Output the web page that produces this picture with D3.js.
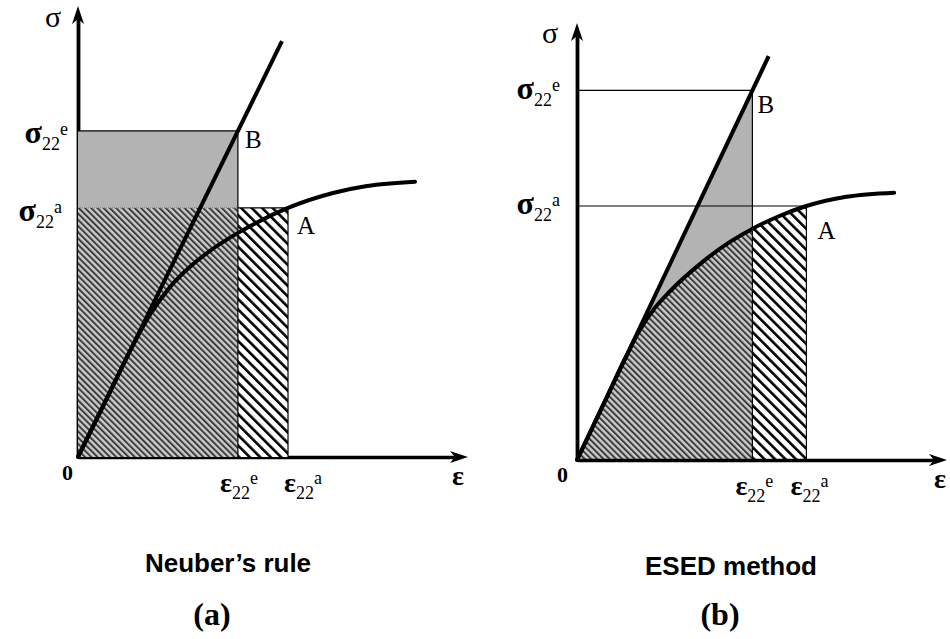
<!DOCTYPE html>
<html>
<head>
<meta charset="utf-8">
<script src="https://cdn.jsdelivr.net/npm/d3@7"></script>
<style>
  html, body { margin: 0; padding: 0; background: #fff; }
  svg { display: block; }
</style>
</head>
<body>
<script>
// Stress–strain values in diagram units: 0–100 spans each axis up to its arrow tip.
const panelTitles   = ["Neuber’s rule", "ESED method"];
const panelLetters  = ["(a)", "(b)"];
const strainElastic = [41.0, 47.4];   // ε22e
const strainActual  = [53.85, 62.0];  // ε22a
const stressElastic = [72.3, 84.6];   // σ22e  (point B)
const stressActual  = [55.23, 58.12]; // σ22a  (point A)
const elasticLineEnd = [[52.3, 92.2], [51.8, 92.4]];
const curveNeuber = [[0, 0], [8.21, 14.41], [13.33, 23.50], [18.46, 31.57], [23.59, 37.67], [28.72, 42.17],
                     [33.85, 45.72], [41.03, 49.69], [53.85, 55.23], [65.38, 58.54], [74.10, 60.09], [86.41, 61.04]];
const curveEsed   = [[0, 0], [7.55, 13.48], [12.94, 23.11], [16.98, 29.73], [21.02, 34.78], [25.07, 38.56],
                     [33.96, 45.35], [41.24, 49.84], [47.44, 52.93], [54.72, 55.84], [62.0, 58.12],
                     [72.78, 60.23], [85.71, 61.17]];
const curves = [curveNeuber, curveEsed];

// Page layout of each panel (pixels)
const layouts = [
  { x0: 78, x1: 468, y0: 457, y1: 6, axesOnTop: false,
    sigmaDx: -25, sigmaDy: 21, epsDx: -10, zeroDx: -5, zeroDy: 23,
    sigELabel: [-10, 12], sigALabel: [-16, 13], epsELabel: 1, epsALabel: 15,
    bLabel: [7, 17], aLabel: [9, 26], titleX: 228, titleY: 572, letterX: 212, letterY: 625 },
  { x0: 577, x1: 947, y0: 460, y1: 23, axesOnTop: true,
    sigmaDx: -27, sigmaDy: 20, epsDx: -7, zeroDx: -9, zeroDy: 22,
    sigELabel: [-17, 9], sigALabel: [-17, 8], epsELabel: 2, epsALabel: 3,
    bLabel: [5, 23], aLabel: [11, 33], titleX: 731, titleY: 575, letterX: 720, letterY: 625 }
];

const W = 950, H = 639;
const SERIF = "'Liberation Serif', 'Times New Roman', serif";
const SANS = "'Liberation Sans', Arial, sans-serif";
const GREY = "#b3b3b3";

const svg = d3.select("body").append("svg").attr("width", W).attr("height", H);
const defs = svg.append("defs");

// Diagonal hatch fills ("\" direction)
function hatch(id, period, stripe, bg, fg) {
  const p = defs.append("pattern").attr("id", id)
    .attr("patternUnits", "userSpaceOnUse")
    .attr("width", period).attr("height", period)
    .attr("patternTransform", "rotate(-45)");
  p.append("rect").attr("width", period).attr("height", period).attr("fill", bg);
  p.append("rect").attr("width", stripe).attr("height", period).attr("fill", fg);
}
hatch("hatch-dense", 4.4, 2.0, "#cccccc", "#3c3c3c");
hatch("hatch-wide", 7.4, 2.6, "#ffffff", "#000000");

// Arrowhead pointing along +x with its tip at the origin
const arrowPath = "M0,0 L-18,-6 L-13,0 L-18,6 Z";

function symbolLabel(g, x, y, anchor, main, sup, mainSize) {
  const t = g.append("text").attr("x", x).attr("y", y).attr("text-anchor", anchor)
    .attr("font-family", SERIF).attr("fill", "#000");
  t.append("tspan").attr("font-size", mainSize).attr("font-weight", "bold").text(main);
  t.append("tspan").attr("font-size", 18).attr("dy", 7).text("22");
  t.append("tspan").attr("font-size", 18).attr("dy", -15).text(sup);
  return t;
}

layouts.forEach((L, i) => {
  const g = svg.append("g");
  const xs = d3.scaleLinear().domain([0, 100]).range([L.x0, L.x1]);
  const ys = d3.scaleLinear().domain([0, 100]).range([L.y0, L.y1]);
  const epsE = strainElastic[i], epsA = strainActual[i];
  const sigE = stressElastic[i], sigA = stressActual[i];
  const curve = curves[i];

  function drawAxes() {
    const ax = g.append("g");
    // axis lines stop short of the tips so the arrowheads stay sharp
    const xAxisScale = xs.copy().range([L.x0, L.x1 - 10]);
    const yAxisScale = ys.copy().range([L.y0, L.y1 + 10]);
    ax.append("g").attr("transform", `translate(0,${ys(0)})`)
      .call(d3.axisBottom(xAxisScale).tickValues([]).tickSizeOuter(0))
      .call(a => a.select(".domain").attr("stroke", "#000").attr("stroke-width", 3.5));
    ax.append("g").attr("transform", `translate(${xs(0)},0)`)
      .call(d3.axisLeft(yAxisScale).tickValues([]).tickSizeOuter(0))
      .call(a => a.select(".domain").attr("stroke", "#000").attr("stroke-width", 3.8));
    ax.append("path").attr("d", arrowPath).attr("fill", "#000")
      .attr("transform", `translate(${xs(100)},${ys(0)})`);
    ax.append("path").attr("d", arrowPath).attr("fill", "#000")
      .attr("transform", `translate(${xs(0)},${ys(100)}) rotate(-90)`);
  }

  if (!L.axesOnTop) drawAxes();

  const thin = (x1, y1, x2, y2, extra) => {
    const l = g.append("line")
      .attr("x1", xs(x1)).attr("y1", ys(y1)).attr("x2", xs(x2)).attr("y2", ys(y2))
      .attr("stroke", "#000").attr("stroke-width", 1.2);
    if (extra) extra(l);
    return l;
  };

  if (i === 0) {
    // Neuber: rectangles of equal area
    g.append("rect").attr("x", xs(0)).attr("y", ys(sigE))
      .attr("width", xs(epsE) - xs(0)).attr("height", ys(sigA) - ys(sigE)).attr("fill", GREY);
    g.append("rect").attr("x", xs(0)).attr("y", ys(sigA))
      .attr("width", xs(epsE) - xs(0)).attr("height", ys(0) - ys(sigA)).attr("fill", "url(#hatch-dense)");
    g.append("rect").attr("x", xs(epsE)).attr("y", ys(sigA))
      .attr("width", xs(epsA) - xs(epsE)).attr("height", ys(0) - ys(sigA)).attr("fill", "url(#hatch-wide)");
    thin(0, sigE, epsE, sigE);
    thin(0, sigA, epsE, sigA, l => l.attr("stroke", "#777").attr("stroke-dasharray", "1,1").attr("stroke-width", 1));
    thin(epsE, sigA, epsA, sigA);
    thin(epsE, sigE, epsE, 0);
    thin(epsA, sigA, epsA, 0);
  } else {
    // ESED: equal strain energy densities
    g.append("path")
      .attr("d", d3.line()([[xs(0), ys(0)], [xs(epsE), ys(sigE)], [xs(epsE), ys(0)]]) + "Z")
      .attr("fill", GREY);
    const area = d3.area().x(d => xs(d[0])).y0(ys(0)).y1(d => ys(d[1])).curve(d3.curveMonotoneX);
    defs.append("clipPath").attr("id", "clip-elastic").append("rect")
      .attr("x", xs(0)).attr("y", 0).attr("width", xs(epsE) - xs(0)).attr("height", H);
    defs.append("clipPath").attr("id", "clip-plastic").append("rect")
      .attr("x", xs(epsE)).attr("y", 0).attr("width", xs(epsA) - xs(epsE)).attr("height", H);
    g.append("path").attr("d", area(curve)).attr("fill", "url(#hatch-dense)").attr("clip-path", "url(#clip-elastic)");
    g.append("path").attr("d", area(curve)).attr("fill", "url(#hatch-wide)").attr("clip-path", "url(#clip-plastic)");
    thin(0, sigE, epsE, sigE);
    thin(0, sigA, epsA, sigA);
    thin(epsE, sigE, epsE, 0);
    thin(epsA, sigA, epsA, 0);
  }

  // Elastic line and actual stress–strain curve
  g.append("path").attr("d", d3.line().x(d => xs(d[0])).y(d => ys(d[1]))([[0, 0], elasticLineEnd[i]]))
    .attr("fill", "none").attr("stroke", "#000").attr("stroke-width", 4);
  g.append("path").attr("d", d3.line().x(d => xs(d[0])).y(d => ys(d[1])).curve(d3.curveMonotoneX)(curve))
    .attr("fill", "none").attr("stroke", "#000").attr("stroke-width", 4).attr("stroke-linecap", "round");

  if (L.axesOnTop) drawAxes();

  // Labels
  g.append("text").attr("x", xs(0) + L.sigmaDx).attr("y", ys(100) + L.sigmaDy)
    .attr("text-anchor", "middle").attr("font-family", SERIF).attr("font-size", 30).text("σ");
  g.append("text").attr("x", xs(100) + L.epsDx).attr("y", ys(0) + 28)
    .attr("text-anchor", "middle").attr("font-family", SERIF).attr("font-weight", "bold")
    .attr("font-size", 28).text("ε");
  g.append("text").attr("x", xs(0) + L.zeroDx).attr("y", ys(0) + L.zeroDy)
    .attr("text-anchor", "end").attr("font-family", SERIF).attr("font-weight", "bold")
    .attr("font-size", 22).text("0");

  symbolLabel(g, xs(0) + L.sigELabel[0], ys(sigE) + L.sigELabel[1], "end", "σ", "e", 32);
  symbolLabel(g, xs(0) + L.sigALabel[0], ys(sigA) + L.sigALabel[1], "end", "σ", "a", 32);
  symbolLabel(g, xs(epsE) + L.epsELabel, ys(0) + 35, "middle", "ε", "e", 28);
  symbolLabel(g, xs(epsA) + L.epsALabel, ys(0) + 35, "middle", "ε", "a", 28);

  g.append("text").attr("x", xs(epsE) + L.bLabel[0]).attr("y", ys(sigE) + L.bLabel[1])
    .attr("font-family", SERIF).attr("font-size", 25).text("B");
  g.append("text").attr("x", xs(epsA) + L.aLabel[0]).attr("y", ys(sigA) + L.aLabel[1])
    .attr("font-family", SERIF).attr("font-size", 25).text("A");

  svg.append("text").attr("x", L.titleX).attr("y", L.titleY).attr("text-anchor", "middle")
    .attr("font-family", SANS).attr("font-weight", "bold").attr("font-size", 26).text(panelTitles[i]);
  svg.append("text").attr("x", L.letterX).attr("y", L.letterY).attr("text-anchor", "middle")
    .attr("font-family", SERIF).attr("font-weight", "bold").attr("font-size", 32).text(panelLetters[i]);
});
</script>
</body>
</html>
